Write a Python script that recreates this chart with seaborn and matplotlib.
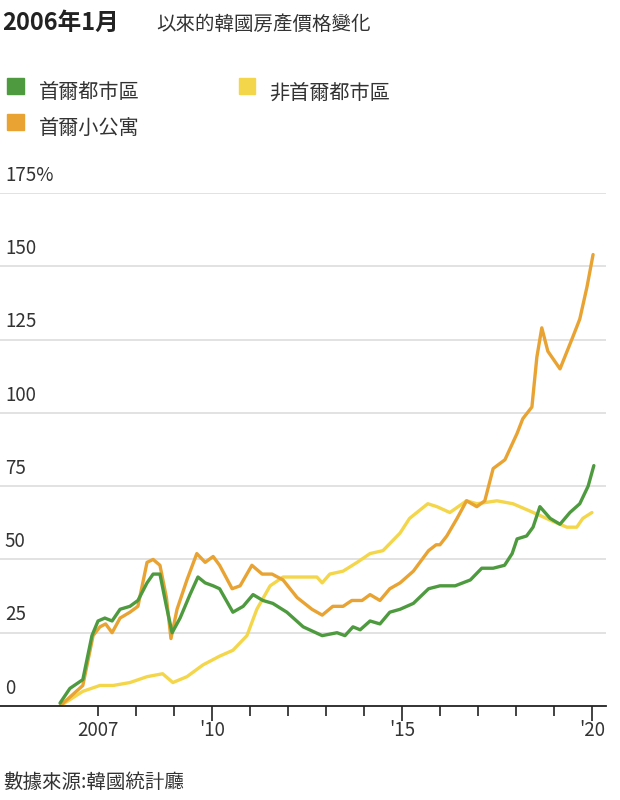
import matplotlib
matplotlib.use("Agg")
import matplotlib.pyplot as plt
from matplotlib import font_manager
import seaborn as sns
import pandas as pd
import numpy as np

# procura a fonte CJK instalada
nomes = sorted({f.name for f in font_manager.fontManager.ttflist if "CJK" in f.name})
fonte_cjk = next((n for n in nomes if "TC" in n), nomes[0] if nomes else "DejaVu Sans")
plt.rcParams["font.family"] = [fonte_cjk, "DejaVu Sans"]

# 首爾都市區
anos_verde = [2006.0, 2006.26, 2006.6, 2006.84, 2007.0, 2007.18, 2007.37, 2007.58, 2007.84, 2008.05,
              2008.29, 2008.45, 2008.63, 2008.8, 2008.95, 2009.16, 2009.42, 2009.63, 2009.82, 2010.03,
              2010.2, 2010.55, 2010.82, 2011.08, 2011.34, 2011.6, 2011.97, 2012.4, 2012.9, 2013.29,
              2013.5, 2013.71, 2013.9, 2014.16, 2014.42, 2014.68, 2014.95, 2015.3, 2015.7, 2016.0,
              2016.4, 2016.8, 2017.1, 2017.4, 2017.7, 2017.9, 2018.03, 2018.28, 2018.45, 2018.63,
              2018.9, 2019.16, 2019.42, 2019.68, 2019.9, 2020.05]
vals_verde = [1, 6, 9, 24, 29, 30, 29, 33, 34, 36,
              42, 45, 45, 34, 25, 30, 38, 44, 42, 41,
              40, 32, 34, 38, 36, 35, 32, 27, 24, 25,
              24, 27, 26, 29, 28, 32, 33, 35, 40, 41,
              41, 43, 47, 47, 48, 52, 57, 58, 61, 68,
              64, 62, 66, 69, 75, 82]

# 非首爾都市區
anos_amarelo = [2006.0, 2006.6, 2007.05, 2007.4, 2007.84, 2008.29, 2008.7, 2008.97, 2009.34, 2009.76,
                2010.2, 2010.55, 2010.92, 2011.18, 2011.53, 2011.87, 2012.24, 2012.58, 2012.76, 2012.9,
                2013.1, 2013.45, 2013.82, 2014.16, 2014.5, 2014.95, 2015.2, 2015.68, 2015.92, 2016.26,
                2016.7, 2016.97, 2017.5, 2017.92, 2018.28, 2018.63, 2018.97, 2019.34, 2019.6, 2019.76,
                2020.0]
vals_amarelo = [0, 5, 7, 7, 8, 10, 11, 8, 10, 14,
                17, 19, 24, 33, 41, 44, 44, 44, 44, 42,
                45, 46, 49, 52, 53, 59, 64, 69, 68, 66,
                70, 69, 70, 69, 67, 65, 63, 61, 61, 64,
                66]

# 首爾小公寓
anos_laranja = [2006.0, 2006.6, 2006.87, 2007.05, 2007.2, 2007.37, 2007.58, 2007.84, 2008.05, 2008.29,
                2008.45, 2008.63, 2008.8, 2008.92, 2009.08, 2009.34, 2009.6, 2009.82, 2010.03, 2010.2,
                2010.53, 2010.74, 2011.05, 2011.32, 2011.58, 2011.87, 2012.24, 2012.63, 2012.9, 2013.18,
                2013.45, 2013.68, 2013.95, 2014.16, 2014.42, 2014.68, 2014.95, 2015.3, 2015.7, 2015.9,
                2016.0, 2016.18, 2016.45, 2016.7, 2016.97, 2017.18, 2017.4, 2017.71, 2018.03, 2018.18,
                2018.42, 2018.55, 2018.68, 2018.84, 2019.16, 2019.5, 2019.68, 2019.87, 2020.03]
vals_laranja = [0, 7, 24, 27, 28, 25, 30, 32, 34, 49,
                50, 48, 37, 23, 33, 43, 52, 49, 51, 48,
                40, 41, 48, 45, 45, 43, 37, 33, 31, 34,
                34, 36, 36, 38, 36, 40, 42, 46, 53, 55,
                55, 58, 64, 70, 68, 70, 81, 84, 93, 98,
                102, 119, 129, 121, 115, 126, 132, 143, 154]

series = ["首爾都市區", "非首爾都市區", "首爾小公寓"]
cores = {"首爾都市區": "#4e9a3f", "非首爾都市區": "#f4d64a", "首爾小公寓": "#e8a332"}

df = pd.concat([
    pd.DataFrame({"ano": anos_amarelo, "valor": vals_amarelo, "serie": series[1]}),
    pd.DataFrame({"ano": anos_laranja, "valor": vals_laranja, "serie": series[2]}),
    pd.DataFrame({"ano": anos_verde, "valor": vals_verde, "serie": series[0]}),
])

fig = plt.figure(figsize=(6.2, 8), dpi=100)
ax = fig.add_axes([0, 94 / 800, 606 / 620, 513 / 800])

sns.lineplot(data=df, x="ano", y="valor", hue="serie", palette=cores, linewidth=2.4,
             legend=False, ax=ax, sort=False, solid_joinstyle="round", solid_capstyle="round")

ax.set_xlim(2004.42, 2020.37)
ax.set_ylim(0, 175)
for s in ["top", "right", "left"]:
    ax.spines[s].set_visible(False)
ax.spines["bottom"].set_color("#222222")
ax.spines["bottom"].set_linewidth(1.3)
ax.set_xlabel("")
ax.set_ylabel("")

# grade e rótulos do eixo y dentro do gráfico
ax.set_yticks([])
for v in [25, 50, 75, 100, 125, 150, 175]:
    ax.axhline(v, color="#dddddd", linewidth=1.2, zorder=0)
for v in [0, 25, 50, 75, 100, 125, 150, 175]:
    txt = f"{v}%" if v == 175 else f"{v}"
    ax.text(2004.55, v + 2.5, txt, fontsize=13.5, color="#333333", va="bottom", ha="left")

anos = list(range(2007, 2021))
ax.set_xticks(anos)
ax.set_xticklabels(["2007" if a == 2007 else ("'" + str(a)[2:] if a % 5 == 0 else "") for a in anos],
                   fontsize=13.5, color="#333333")
ax.tick_params(axis="x", length=7, width=1.2, color="#222222", pad=3)
for t, a in zip(ax.xaxis.get_major_ticks(), anos):
    if a in (2010, 2015, 2020):
        t.tick1line.set_markersize(11)

# título
fig.text(0.003, 0.962, "2006年1月", fontsize=17, fontweight="bold", color="#222222")
fig.text(0.252, 0.962, "以來的韓國房產價格變化", fontsize=14, color="#333333")

# legenda
def item(x, y, nome):
    fig.patches.append(plt.Rectangle((x, y), 0.027, 0.021, transform=fig.transFigure,
                                     color=cores[nome], figure=fig))
    fig.text(x + 0.05, y - 0.005, nome, fontsize=14.5, color="#333333")

item(0.012, 0.882, series[0])
item(0.385, 0.882, series[1])
item(0.012, 0.837, series[2])

fig.text(0.005, 0.015, "數據來源:韓國統計廳", fontsize=14, color="#333333")

fig.savefig("out.png", dpi=100)
